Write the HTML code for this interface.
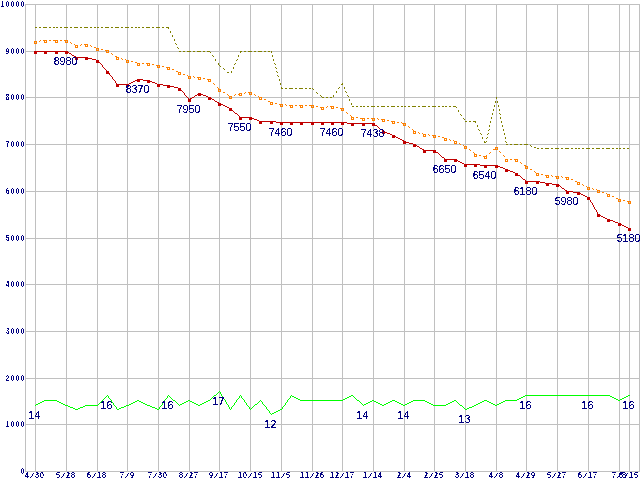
<!DOCTYPE html><html><head><meta charset="utf-8"><title>chart</title><style>
html,body{margin:0;padding:0;background:#fff;overflow:hidden}svg{display:block}
.ax{font-family:"Liberation Sans",sans-serif;font-weight:bold;font-size:9px;fill:#000080}
.dl{font-family:"Liberation Sans",sans-serif;font-size:10.67px;fill:#000080;text-anchor:middle}
</style></head><body>
<svg width="640" height="480" viewBox="0 0 640 480">
<defs><filter id="cr" x="0" y="0" width="640" height="480" filterUnits="userSpaceOnUse" color-interpolation-filters="sRGB"><feComponentTransfer><feFuncA type="discrete" tableValues="0 0 1 1 1"/></feComponentTransfer></filter><filter id="cx" x="0" y="0" width="640" height="480" filterUnits="userSpaceOnUse" color-interpolation-filters="sRGB"><feComponentTransfer><feFuncA type="discrete" tableValues="0 1"/></feComponentTransfer></filter></defs>
<rect width="640" height="480" fill="#fff"/>
<path shape-rendering="crispEdges" fill="#c0c0c0" d="M25 471h615v1h-615zM25 424h615v1h-615zM25 378h615v1h-615zM25 331h615v1h-615zM25 284h615v1h-615zM25 238h615v1h-615zM25 191h615v1h-615zM25 144h615v1h-615zM25 97h615v1h-615zM25 51h615v1h-615zM25 4h615v1h-615zM25 4h1v468h-1zM35 4h1v468h-1zM66 4h1v468h-1zM97 4h1v468h-1zM127 4h1v468h-1zM158 4h1v468h-1zM189 4h1v468h-1zM219 4h1v468h-1zM250 4h1v468h-1zM281 4h1v468h-1zM312 4h1v468h-1zM342 4h1v468h-1zM373 4h1v468h-1zM404 4h1v468h-1zM434 4h1v468h-1zM465 4h1v468h-1zM496 4h1v468h-1zM526 4h1v468h-1zM557 4h1v468h-1zM588 4h1v468h-1zM619 4h1v468h-1zM629 4h1v468h-1zM639 4h1v468h-1z"/>
<path shape-rendering="crispEdges" fill="#00ff00" d="M219 391h1v1h-1zM218 392h1v1h-1zM220 392h1v1h-1zM217 393h1v1h-1zM220 393h1v1h-1zM216 394h1v1h-1zM221 394h1v1h-1zM107 395h1v1h-1zM168 395h1v1h-1zM214 395h2v1h-2zM221 395h1v1h-1zM240 395h1v1h-1zM291 395h1v1h-1zM351 395h2v1h-2zM525 395h85v1h-85zM628 395h2v1h-2zM106 396h1v1h-1zM108 396h1v1h-1zM167 396h1v1h-1zM169 396h1v1h-1zM213 396h1v1h-1zM222 396h1v1h-1zM239 396h1v1h-1zM241 396h1v1h-1zM290 396h1v1h-1zM292 396h2v1h-2zM349 396h2v1h-2zM353 396h1v1h-1zM523 396h2v1h-2zM610 396h2v1h-2zM626 396h2v1h-2zM105 397h1v1h-1zM108 397h1v1h-1zM167 397h1v1h-1zM170 397h1v1h-1zM212 397h1v1h-1zM223 397h1v1h-1zM239 397h1v1h-1zM241 397h1v1h-1zM290 397h1v1h-1zM294 397h2v1h-2zM347 397h2v1h-2zM354 397h1v1h-1zM521 397h2v1h-2zM612 397h2v1h-2zM624 397h2v1h-2zM104 398h1v1h-1zM109 398h1v1h-1zM166 398h1v1h-1zM171 398h1v1h-1zM211 398h1v1h-1zM223 398h1v1h-1zM238 398h1v1h-1zM242 398h1v1h-1zM289 398h1v1h-1zM296 398h2v1h-2zM345 398h2v1h-2zM355 398h1v1h-1zM519 398h2v1h-2zM614 398h2v1h-2zM622 398h2v1h-2zM103 399h1v1h-1zM110 399h1v1h-1zM165 399h1v1h-1zM172 399h1v1h-1zM210 399h1v1h-1zM224 399h1v1h-1zM237 399h1v1h-1zM243 399h1v1h-1zM288 399h1v1h-1zM298 399h2v1h-2zM343 399h2v1h-2zM356 399h1v1h-1zM517 399h2v1h-2zM616 399h2v1h-2zM620 399h2v1h-2zM44 400h13v1h-13zM102 400h1v1h-1zM111 400h1v1h-1zM137 400h2v1h-2zM164 400h1v1h-1zM173 400h2v1h-2zM188 400h2v1h-2zM208 400h2v1h-2zM225 400h1v1h-1zM236 400h1v1h-1zM244 400h1v1h-1zM260 400h1v1h-1zM287 400h1v1h-1zM300 400h43v1h-43zM357 400h2v1h-2zM372 400h2v1h-2zM392 400h3v1h-3zM413 400h12v1h-12zM454 400h2v1h-2zM484 400h3v1h-3zM505 400h12v1h-12zM618 400h2v1h-2zM42 401h2v1h-2zM57 401h2v1h-2zM101 401h1v1h-1zM111 401h1v1h-1zM135 401h2v1h-2zM139 401h2v1h-2zM164 401h1v1h-1zM175 401h1v1h-1zM186 401h2v1h-2zM190 401h2v1h-2zM206 401h2v1h-2zM225 401h1v1h-1zM236 401h1v1h-1zM244 401h1v1h-1zM259 401h1v1h-1zM261 401h1v1h-1zM287 401h1v1h-1zM359 401h1v1h-1zM370 401h2v1h-2zM374 401h2v1h-2zM390 401h2v1h-2zM395 401h2v1h-2zM411 401h2v1h-2zM425 401h2v1h-2zM452 401h2v1h-2zM456 401h1v1h-1zM482 401h2v1h-2zM487 401h2v1h-2zM503 401h2v1h-2zM40 402h2v1h-2zM59 402h2v1h-2zM100 402h1v1h-1zM112 402h1v1h-1zM133 402h2v1h-2zM141 402h2v1h-2zM163 402h1v1h-1zM176 402h1v1h-1zM184 402h2v1h-2zM192 402h2v1h-2zM204 402h2v1h-2zM226 402h1v1h-1zM235 402h1v1h-1zM245 402h1v1h-1zM258 402h1v1h-1zM262 402h1v1h-1zM286 402h1v1h-1zM360 402h1v1h-1zM368 402h2v1h-2zM376 402h2v1h-2zM388 402h2v1h-2zM397 402h2v1h-2zM409 402h2v1h-2zM427 402h2v1h-2zM450 402h2v1h-2zM457 402h1v1h-1zM480 402h2v1h-2zM489 402h2v1h-2zM501 402h2v1h-2zM38 403h2v1h-2zM61 403h2v1h-2zM99 403h1v1h-1zM113 403h1v1h-1zM131 403h2v1h-2zM143 403h2v1h-2zM162 403h1v1h-1zM177 403h1v1h-1zM182 403h2v1h-2zM194 403h2v1h-2zM202 403h2v1h-2zM226 403h1v1h-1zM234 403h1v1h-1zM246 403h1v1h-1zM257 403h1v1h-1zM262 403h1v1h-1zM285 403h1v1h-1zM361 403h1v1h-1zM366 403h2v1h-2zM378 403h2v1h-2zM386 403h2v1h-2zM399 403h2v1h-2zM407 403h2v1h-2zM429 403h2v1h-2zM448 403h2v1h-2zM458 403h1v1h-1zM478 403h2v1h-2zM491 403h2v1h-2zM499 403h2v1h-2zM36 404h2v1h-2zM63 404h2v1h-2zM98 404h1v1h-1zM113 404h1v1h-1zM129 404h2v1h-2zM145 404h2v1h-2zM162 404h1v1h-1zM178 404h1v1h-1zM180 404h2v1h-2zM196 404h2v1h-2zM200 404h2v1h-2zM227 404h1v1h-1zM234 404h1v1h-1zM246 404h1v1h-1zM255 404h2v1h-2zM263 404h1v1h-1zM285 404h1v1h-1zM362 404h1v1h-1zM364 404h2v1h-2zM380 404h2v1h-2zM384 404h2v1h-2zM401 404h2v1h-2zM405 404h2v1h-2zM431 404h2v1h-2zM446 404h2v1h-2zM459 404h1v1h-1zM476 404h2v1h-2zM493 404h2v1h-2zM497 404h2v1h-2zM35 405h1v1h-1zM65 405h3v1h-3zM85 405h13v1h-13zM114 405h1v1h-1zM126 405h3v1h-3zM147 405h3v1h-3zM161 405h1v1h-1zM179 405h1v1h-1zM198 405h2v1h-2zM228 405h1v1h-1zM233 405h1v1h-1zM247 405h1v1h-1zM254 405h1v1h-1zM264 405h1v1h-1zM284 405h1v1h-1zM363 405h1v1h-1zM382 405h2v1h-2zM403 405h2v1h-2zM433 405h13v1h-13zM460 405h2v1h-2zM474 405h2v1h-2zM495 405h2v1h-2zM68 406h2v1h-2zM83 406h2v1h-2zM115 406h1v1h-1zM124 406h2v1h-2zM150 406h2v1h-2zM160 406h1v1h-1zM228 406h1v1h-1zM232 406h1v1h-1zM248 406h1v1h-1zM253 406h1v1h-1zM265 406h1v1h-1zM283 406h1v1h-1zM462 406h1v1h-1zM472 406h2v1h-2zM70 407h3v1h-3zM80 407h3v1h-3zM116 407h1v1h-1zM121 407h3v1h-3zM152 407h3v1h-3zM159 407h1v1h-1zM229 407h1v1h-1zM231 407h1v1h-1zM249 407h1v1h-1zM252 407h1v1h-1zM266 407h1v1h-1zM282 407h1v1h-1zM463 407h1v1h-1zM469 407h3v1h-3zM73 408h2v1h-2zM78 408h2v1h-2zM116 408h1v1h-1zM119 408h2v1h-2zM155 408h2v1h-2zM159 408h1v1h-1zM229 408h1v1h-1zM231 408h1v1h-1zM249 408h1v1h-1zM251 408h1v1h-1zM266 408h1v1h-1zM282 408h1v1h-1zM464 408h1v1h-1zM467 408h2v1h-2zM75 409h3v1h-3zM117 409h2v1h-2zM157 409h2v1h-2zM230 409h1v1h-1zM250 409h1v1h-1zM267 409h1v1h-1zM280 409h2v1h-2zM465 409h2v1h-2zM268 410h1v1h-1zM278 410h2v1h-2zM269 411h1v1h-1zM276 411h2v1h-2zM269 412h1v1h-1zM274 412h2v1h-2zM270 413h1v1h-1zM272 413h2v1h-2zM271 414h1v1h-1z"/>
<path shape-rendering="crispEdges" fill="#808000" d="M35 27h2v1h-2zM39 27h2v1h-2zM43 27h4v1h-4zM49 27h2v1h-2zM53 27h2v1h-2zM56 27h2v1h-2zM60 27h2v1h-2zM64 27h4v1h-4zM70 27h2v1h-2zM74 27h4v1h-4zM80 27h2v1h-2zM84 27h4v1h-4zM90 27h2v1h-2zM94 27h2v1h-2zM97 27h2v1h-2zM101 27h2v1h-2zM105 27h4v1h-4zM111 27h2v1h-2zM115 27h4v1h-4zM121 27h2v1h-2zM125 27h4v1h-4zM131 27h2v1h-2zM135 27h2v1h-2zM138 27h2v1h-2zM142 27h2v1h-2zM146 27h4v1h-4zM152 27h2v1h-2zM156 27h4v1h-4zM162 27h2v1h-2zM166 27h3v1h-3zM168 28h1v1h-1zM170 31h1v1h-1zM170 32h1v1h-1zM172 35h1v1h-1zM172 36h1v1h-1zM174 39h1v1h-1zM174 40h1v1h-1zM175 43h1v1h-1zM176 44h1v1h-1zM177 47h1v1h-1zM178 48h1v1h-1zM179 51h2v1h-2zM183 51h2v1h-2zM187 51h4v1h-4zM193 51h2v1h-2zM197 51h4v1h-4zM203 51h2v1h-2zM207 51h3v1h-3zM240 51h2v1h-2zM244 51h2v1h-2zM248 51h4v1h-4zM254 51h2v1h-2zM258 51h4v1h-4zM264 51h2v1h-2zM268 51h2v1h-2zM271 51h1v1h-1zM210 52h1v1h-1zM240 52h1v1h-1zM271 52h1v1h-1zM212 55h1v1h-1zM238 55h1v1h-1zM272 55h1v1h-1zM213 56h1v1h-1zM238 56h1v1h-1zM272 56h1v1h-1zM215 59h1v1h-1zM237 59h1v1h-1zM273 59h1v1h-1zM215 60h1v1h-1zM236 60h1v1h-1zM273 60h1v1h-1zM218 63h1v1h-1zM235 63h1v1h-1zM274 63h1v1h-1zM218 64h1v1h-1zM234 64h1v1h-1zM275 64h1v1h-1zM219 65h1v1h-1zM220 66h1v1h-1zM233 67h1v1h-1zM275 67h1v1h-1zM223 68h1v1h-1zM233 68h1v1h-1zM276 68h1v1h-1zM224 69h1v1h-1zM231 71h1v1h-1zM276 71h1v1h-1zM227 72h2v1h-2zM231 72h1v1h-1zM277 72h1v1h-1zM277 75h1v1h-1zM278 76h1v1h-1zM279 79h1v1h-1zM279 80h1v1h-1zM280 83h1v1h-1zM342 83h1v1h-1zM280 84h1v1h-1zM341 84h2v1h-2zM281 87h1v1h-1zM339 87h1v1h-1zM344 87h1v1h-1zM281 88h2v1h-2zM285 88h2v1h-2zM289 88h4v1h-4zM295 88h2v1h-2zM299 88h4v1h-4zM305 88h2v1h-2zM309 88h2v1h-2zM312 88h1v1h-1zM338 88h1v1h-1zM344 88h1v1h-1zM313 89h1v1h-1zM336 91h1v1h-1zM345 91h1v1h-1zM316 92h1v1h-1zM336 92h1v1h-1zM346 92h1v1h-1zM317 93h1v1h-1zM320 95h1v1h-1zM333 95h1v1h-1zM347 95h1v1h-1zM321 96h1v1h-1zM333 96h1v1h-1zM348 96h1v1h-1zM322 97h2v1h-2zM326 97h2v1h-2zM330 97h2v1h-2zM496 97h1v1h-1zM496 98h1v1h-1zM349 99h1v1h-1zM349 100h1v1h-1zM495 101h1v1h-1zM497 101h1v1h-1zM495 102h1v1h-1zM497 102h1v1h-1zM351 103h1v1h-1zM351 104h1v1h-1zM494 105h1v1h-1zM498 105h1v1h-1zM352 106h2v1h-2zM356 106h2v1h-2zM360 106h2v1h-2zM363 106h2v1h-2zM367 106h2v1h-2zM371 106h4v1h-4zM377 106h2v1h-2zM381 106h4v1h-4zM387 106h2v1h-2zM391 106h4v1h-4zM397 106h2v1h-2zM401 106h2v1h-2zM404 106h2v1h-2zM408 106h2v1h-2zM412 106h4v1h-4zM418 106h2v1h-2zM422 106h4v1h-4zM428 106h2v1h-2zM432 106h4v1h-4zM438 106h2v1h-2zM442 106h2v1h-2zM445 106h2v1h-2zM449 106h2v1h-2zM453 106h3v1h-3zM494 106h1v1h-1zM498 106h1v1h-1zM456 107h1v1h-1zM493 109h1v1h-1zM499 109h1v1h-1zM458 110h1v1h-1zM493 110h1v1h-1zM499 110h1v1h-1zM458 111h1v1h-1zM492 113h1v1h-1zM499 113h1v1h-1zM460 114h1v1h-1zM492 114h1v1h-1zM500 114h1v1h-1zM461 115h1v1h-1zM491 117h1v1h-1zM500 117h1v1h-1zM463 118h1v1h-1zM491 118h1v1h-1zM500 118h1v1h-1zM464 119h1v1h-1zM465 121h2v1h-2zM469 121h2v1h-2zM473 121h3v1h-3zM490 121h1v1h-1zM501 121h1v1h-1zM475 122h1v1h-1zM490 122h1v1h-1zM501 122h1v1h-1zM477 125h1v1h-1zM489 125h1v1h-1zM502 125h1v1h-1zM477 126h1v1h-1zM489 126h1v1h-1zM502 126h1v1h-1zM478 129h1v1h-1zM489 129h1v1h-1zM503 129h1v1h-1zM479 130h1v1h-1zM488 130h1v1h-1zM503 130h1v1h-1zM480 133h1v1h-1zM488 133h1v1h-1zM504 133h1v1h-1zM481 134h1v1h-1zM487 134h1v1h-1zM504 134h1v1h-1zM482 137h1v1h-1zM487 137h1v1h-1zM505 137h1v1h-1zM482 138h1v1h-1zM486 138h1v1h-1zM505 138h1v1h-1zM484 141h1v1h-1zM486 141h1v1h-1zM505 141h1v1h-1zM484 142h2v1h-2zM506 142h1v1h-1zM506 144h2v1h-2zM510 144h2v1h-2zM514 144h4v1h-4zM520 144h2v1h-2zM524 144h4v1h-4zM530 145h1v1h-1zM531 146h1v1h-1zM534 147h2v1h-2zM537 148h2v1h-2zM541 148h2v1h-2zM545 148h4v1h-4zM551 148h2v1h-2zM555 148h4v1h-4zM561 148h2v1h-2zM565 148h4v1h-4zM571 148h2v1h-2zM575 148h2v1h-2zM578 148h2v1h-2zM582 148h2v1h-2zM586 148h4v1h-4zM592 148h2v1h-2zM596 148h4v1h-4zM602 148h2v1h-2zM606 148h4v1h-4zM612 148h2v1h-2zM616 148h2v1h-2zM619 148h2v1h-2zM623 148h2v1h-2zM627 148h2v1h-2z"/>
<path shape-rendering="crispEdges" fill="#ff8000" d="M40 40h1v1h-1zM43 40h4v1h-4zM49 40h2v1h-2zM53 40h2v1h-2zM56 40h2v1h-2zM60 40h2v1h-2zM64 40h3v1h-3zM35 41h2v1h-2zM39 41h1v1h-1zM67 41h1v1h-1zM70 42h1v1h-1zM71 43h1v1h-1zM74 44h1v1h-1zM81 44h1v1h-1zM84 44h4v1h-4zM75 45h3v1h-3zM80 45h1v1h-1zM90 45h1v1h-1zM91 46h1v1h-1zM94 47h2v1h-2zM97 48h2v1h-2zM101 49h2v1h-2zM105 50h3v1h-3zM108 51h1v1h-1zM111 53h1v1h-1zM112 54h1v1h-1zM115 56h2v1h-2zM117 57h2v1h-2zM121 58h1v1h-1zM122 59h1v1h-1zM125 59h1v1h-1zM126 60h3v1h-3zM131 61h2v1h-2zM135 62h2v1h-2zM138 63h2v1h-2zM142 63h2v1h-2zM146 63h4v1h-4zM152 64h2v1h-2zM156 65h4v1h-4zM162 66h2v1h-2zM166 67h4v1h-4zM172 69h2v1h-2zM176 71h2v1h-2zM179 72h2v1h-2zM183 74h2v1h-2zM187 75h1v1h-1zM188 76h3v1h-3zM193 76h1v1h-1zM194 77h1v1h-1zM197 77h4v1h-4zM203 78h2v1h-2zM207 79h3v1h-3zM210 80h1v1h-1zM213 83h1v1h-1zM214 84h1v1h-1zM217 87h1v1h-1zM218 88h1v1h-1zM219 89h1v1h-1zM220 90h1v1h-1zM223 92h2v1h-2zM245 92h1v1h-1zM248 92h3v1h-3zM239 93h3v1h-3zM244 93h1v1h-1zM251 93h1v1h-1zM227 94h1v1h-1zM235 94h1v1h-1zM238 94h1v1h-1zM254 94h1v1h-1zM228 95h1v1h-1zM234 95h1v1h-1zM255 95h1v1h-1zM230 96h2v1h-2zM258 96h1v1h-1zM259 97h3v1h-3zM264 99h2v1h-2zM268 101h2v1h-2zM271 102h2v1h-2zM275 103h2v1h-2zM279 104h4v1h-4zM285 104h1v1h-1zM286 105h1v1h-1zM289 105h4v1h-4zM295 105h2v1h-2zM299 105h4v1h-4zM305 105h2v1h-2zM309 105h2v1h-2zM312 105h2v1h-2zM316 106h2v1h-2zM327 106h1v1h-1zM330 106h4v1h-4zM320 107h4v1h-4zM326 107h1v1h-1zM336 107h2v1h-2zM340 108h3v1h-3zM343 109h1v1h-1zM346 112h1v1h-1zM347 113h1v1h-1zM350 115h1v1h-1zM351 116h1v1h-1zM352 117h2v1h-2zM356 117h2v1h-2zM360 118h2v1h-2zM363 118h2v1h-2zM367 118h2v1h-2zM371 118h4v1h-4zM377 118h1v1h-1zM378 119h1v1h-1zM381 119h4v1h-4zM387 120h2v1h-2zM391 121h4v1h-4zM397 122h2v1h-2zM401 122h1v1h-1zM402 123h1v1h-1zM404 123h1v1h-1zM405 124h1v1h-1zM408 126h1v1h-1zM409 127h1v1h-1zM412 129h1v1h-1zM413 130h1v1h-1zM414 131h2v1h-2zM418 132h1v1h-1zM419 133h1v1h-1zM422 133h1v1h-1zM423 134h3v1h-3zM428 134h1v1h-1zM429 135h1v1h-1zM432 135h4v1h-4zM438 136h2v1h-2zM442 137h2v1h-2zM445 138h2v1h-2zM449 139h1v1h-1zM450 140h1v1h-1zM453 140h1v1h-1zM454 141h2v1h-2zM456 142h1v1h-1zM459 143h1v1h-1zM460 144h1v1h-1zM463 145h1v1h-1zM464 146h2v1h-2zM466 147h1v1h-1zM496 147h1v1h-1zM497 148h1v1h-1zM469 149h1v1h-1zM493 149h2v1h-2zM470 150h1v1h-1zM499 151h1v1h-1zM473 152h1v1h-1zM490 152h1v1h-1zM500 152h1v1h-1zM474 153h1v1h-1zM489 153h1v1h-1zM475 154h2v1h-2zM479 155h2v1h-2zM486 155h1v1h-1zM503 155h1v1h-1zM483 156h3v1h-3zM504 156h1v1h-1zM506 159h2v1h-2zM510 159h2v1h-2zM514 159h3v1h-3zM517 160h1v1h-1zM520 162h1v1h-1zM521 163h1v1h-1zM524 165h2v1h-2zM526 166h1v1h-1zM527 167h1v1h-1zM530 169h2v1h-2zM534 171h1v1h-1zM535 172h1v1h-1zM537 173h2v1h-2zM541 174h2v1h-2zM545 175h4v1h-4zM551 175h1v1h-1zM552 176h1v1h-1zM555 176h4v1h-4zM561 176h1v1h-1zM562 177h1v1h-1zM565 177h4v1h-4zM571 179h2v1h-2zM575 181h2v1h-2zM578 182h1v1h-1zM579 183h1v1h-1zM582 184h1v1h-1zM583 185h1v1h-1zM586 186h1v1h-1zM587 187h3v1h-3zM592 188h1v1h-1zM593 189h1v1h-1zM596 189h1v1h-1zM597 190h3v1h-3zM602 192h2v1h-2zM606 193h1v1h-1zM607 194h3v1h-3zM612 196h2v1h-2zM616 198h2v1h-2zM619 199h2v1h-2zM623 200h2v1h-2zM627 201h2v1h-2z"/>
<path shape-rendering="crispEdges" fill="#ff8000" fill-rule="evenodd" d="M34 41h3v3h-3zM35 42v1h1v-1zM44 40h3v3h-3zM45 41v1h1v-1zM55 40h3v3h-3zM56 41v1h1v-1zM65 40h3v3h-3zM66 41v1h1v-1zM75 45h3v3h-3zM76 46v1h1v-1zM85 44h3v3h-3zM86 45v1h1v-1zM96 48h3v3h-3zM97 49v1h1v-1zM106 50h3v3h-3zM107 51v1h1v-1zM116 57h3v3h-3zM117 58v1h1v-1zM126 60h3v3h-3zM127 61v1h1v-1zM137 63h3v3h-3zM138 64v1h1v-1zM147 63h3v3h-3zM148 64v1h1v-1zM157 65h3v3h-3zM158 66v1h1v-1zM167 67h3v3h-3zM168 68v1h1v-1zM178 72h3v3h-3zM179 73v1h1v-1zM188 76h3v3h-3zM189 77v1h1v-1zM198 77h3v3h-3zM199 78v1h1v-1zM208 79h3v3h-3zM209 80v1h1v-1zM218 89h3v3h-3zM219 90v1h1v-1zM229 96h3v3h-3zM230 97v1h1v-1zM239 93h3v3h-3zM240 94v1h1v-1zM249 92h3v3h-3zM250 93v1h1v-1zM259 97h3v3h-3zM260 98v1h1v-1zM270 102h3v3h-3zM271 103v1h1v-1zM280 104h3v3h-3zM281 105v1h1v-1zM290 105h3v3h-3zM291 106v1h1v-1zM300 105h3v3h-3zM301 106v1h1v-1zM311 105h3v3h-3zM312 106v1h1v-1zM321 107h3v3h-3zM322 108v1h1v-1zM331 106h3v3h-3zM332 107v1h1v-1zM341 108h3v3h-3zM342 109v1h1v-1zM351 117h3v3h-3zM352 118v1h1v-1zM362 118h3v3h-3zM363 119v1h1v-1zM372 118h3v3h-3zM373 119v1h1v-1zM382 119h3v3h-3zM383 120v1h1v-1zM392 121h3v3h-3zM393 122v1h1v-1zM403 123h3v3h-3zM404 124v1h1v-1zM413 131h3v3h-3zM414 132v1h1v-1zM423 134h3v3h-3zM424 135v1h1v-1zM433 135h3v3h-3zM434 136v1h1v-1zM444 138h3v3h-3zM445 139v1h1v-1zM454 141h3v3h-3zM455 142v1h1v-1zM464 146h3v3h-3zM465 147v1h1v-1zM474 154h3v3h-3zM475 155v1h1v-1zM484 156h3v3h-3zM485 157v1h1v-1zM495 147h3v3h-3zM496 148v1h1v-1zM505 159h3v3h-3zM506 160v1h1v-1zM515 159h3v3h-3zM516 160v1h1v-1zM525 166h3v3h-3zM526 167v1h1v-1zM536 173h3v3h-3zM537 174v1h1v-1zM546 175h3v3h-3zM547 176v1h1v-1zM556 176h3v3h-3zM557 177v1h1v-1zM566 177h3v3h-3zM567 178v1h1v-1zM577 182h3v3h-3zM578 183v1h1v-1zM587 187h3v3h-3zM588 188v1h1v-1zM597 190h3v3h-3zM598 191v1h1v-1zM607 194h3v3h-3zM608 195v1h1v-1zM618 199h3v3h-3zM619 200v1h1v-1zM628 201h3v3h-3zM629 202v1h1v-1z"/>
<path shape-rendering="crispEdges" fill="#c00000" d="M35 51h32v1h-32zM67 52h2v1h-2zM69 53h2v1h-2zM71 54h1v1h-1zM72 55h2v1h-2zM74 56h2v1h-2zM76 57h12v1h-12zM88 58h4v1h-4zM92 59h4v1h-4zM96 60h2v1h-2zM98 61h1v1h-1zM99 62h1v1h-1zM100 63h1v1h-1zM101 64h1v1h-1zM102 65h1v1h-1zM102 66h1v1h-1zM103 67h1v1h-1zM104 68h1v1h-1zM105 69h1v1h-1zM106 70h1v1h-1zM107 71h1v1h-1zM108 72h1v1h-1zM109 73h1v1h-1zM109 74h1v1h-1zM110 75h1v1h-1zM111 76h1v1h-1zM112 77h1v1h-1zM112 78h1v1h-1zM113 79h1v1h-1zM137 79h6v1h-6zM114 80h1v1h-1zM135 80h2v1h-2zM143 80h7v1h-7zM115 81h1v1h-1zM133 81h2v1h-2zM150 81h2v1h-2zM115 82h1v1h-1zM131 82h2v1h-2zM152 82h3v1h-3zM116 83h1v1h-1zM129 83h2v1h-2zM155 83h2v1h-2zM117 84h12v1h-12zM157 84h6v1h-6zM163 85h7v1h-7zM170 86h4v1h-4zM174 87h4v1h-4zM178 88h2v1h-2zM180 89h1v1h-1zM181 90h1v1h-1zM182 91h1v1h-1zM183 92h1v1h-1zM184 93h1v1h-1zM199 93h2v1h-2zM184 94h1v1h-1zM197 94h2v1h-2zM201 94h2v1h-2zM185 95h1v1h-1zM195 95h2v1h-2zM203 95h3v1h-3zM186 96h1v1h-1zM194 96h1v1h-1zM206 96h2v1h-2zM187 97h1v1h-1zM192 97h2v1h-2zM208 97h2v1h-2zM188 98h1v1h-1zM190 98h2v1h-2zM210 98h2v1h-2zM189 99h1v1h-1zM212 99h2v1h-2zM214 100h1v1h-1zM215 101h2v1h-2zM217 102h2v1h-2zM219 103h2v1h-2zM221 104h2v1h-2zM223 105h2v1h-2zM225 106h2v1h-2zM227 107h2v1h-2zM229 108h2v1h-2zM231 109h1v1h-1zM232 110h1v1h-1zM233 111h1v1h-1zM234 112h1v1h-1zM235 113h2v1h-2zM237 114h1v1h-1zM238 115h1v1h-1zM239 116h1v1h-1zM240 117h12v1h-12zM252 118h2v1h-2zM254 119h3v1h-3zM257 120h2v1h-2zM259 121h17v1h-17zM276 122h71v1h-71zM347 123h27v1h-27zM374 124h1v1h-1zM375 125h2v1h-2zM377 126h1v1h-1zM378 127h1v1h-1zM379 128h1v1h-1zM380 129h2v1h-2zM382 130h1v1h-1zM383 131h2v1h-2zM385 132h2v1h-2zM387 133h3v1h-3zM390 134h2v1h-2zM392 135h2v1h-2zM394 136h2v1h-2zM396 137h2v1h-2zM398 138h2v1h-2zM400 139h2v1h-2zM402 140h2v1h-2zM404 141h2v1h-2zM406 142h3v1h-3zM409 143h4v1h-4zM413 144h2v1h-2zM415 145h2v1h-2zM417 146h2v1h-2zM419 147h1v1h-1zM420 148h2v1h-2zM422 149h2v1h-2zM424 150h11v1h-11zM435 151h1v1h-1zM436 152h2v1h-2zM438 153h1v1h-1zM439 154h1v1h-1zM440 155h1v1h-1zM441 156h1v1h-1zM442 157h2v1h-2zM444 158h1v1h-1zM445 159h11v1h-11zM456 160h2v1h-2zM458 161h2v1h-2zM460 162h2v1h-2zM462 163h2v1h-2zM464 164h16v1h-16zM480 165h18v1h-18zM498 166h2v1h-2zM500 167h3v1h-3zM503 168h2v1h-2zM505 169h3v1h-3zM508 170h2v1h-2zM510 171h3v1h-3zM513 172h2v1h-2zM515 173h2v1h-2zM517 174h1v1h-1zM518 175h2v1h-2zM520 176h1v1h-1zM521 177h1v1h-1zM522 178h1v1h-1zM523 179h2v1h-2zM525 180h1v1h-1zM526 181h14v1h-14zM540 182h5v1h-5zM545 183h7v1h-7zM552 184h6v1h-6zM558 185h2v1h-2zM560 186h1v1h-1zM561 187h1v1h-1zM562 188h2v1h-2zM564 189h1v1h-1zM565 190h2v1h-2zM567 191h6v1h-6zM573 192h6v1h-6zM579 193h2v1h-2zM581 194h2v1h-2zM583 195h2v1h-2zM585 196h2v1h-2zM587 197h2v1h-2zM589 198h1v1h-1zM589 199h1v1h-1zM590 200h1v1h-1zM590 201h1v1h-1zM591 202h1v1h-1zM592 203h1v1h-1zM592 204h1v1h-1zM593 205h1v1h-1zM593 206h1v1h-1zM594 207h1v1h-1zM594 208h1v1h-1zM595 209h1v1h-1zM596 210h1v1h-1zM596 211h1v1h-1zM597 212h1v1h-1zM597 213h1v1h-1zM598 214h1v1h-1zM599 215h2v1h-2zM601 216h2v1h-2zM603 217h2v1h-2zM605 218h2v1h-2zM607 219h3v1h-3zM610 220h3v1h-3zM613 221h2v1h-2zM615 222h3v1h-3zM618 223h2v1h-2zM620 224h2v1h-2zM622 225h2v1h-2zM624 226h2v1h-2zM626 227h2v1h-2zM628 228h2v1h-2z"/>
<path shape-rendering="crispEdges" fill="#c00000" d="M34 51h3v3h-3zM44 51h3v3h-3zM55 51h3v3h-3zM65 51h3v3h-3zM75 57h3v3h-3zM85 57h3v3h-3zM96 60h3v3h-3zM106 71h3v3h-3zM116 84h3v3h-3zM126 84h3v3h-3zM137 79h3v3h-3zM147 80h3v3h-3zM157 84h3v3h-3zM167 85h3v3h-3zM178 88h3v3h-3zM188 99h3v3h-3zM198 93h3v3h-3zM208 97h3v3h-3zM218 103h3v3h-3zM229 108h3v3h-3zM239 117h3v3h-3zM249 117h3v3h-3zM259 121h3v3h-3zM270 121h3v3h-3zM280 122h3v3h-3zM290 122h3v3h-3zM300 122h3v3h-3zM311 122h3v3h-3zM321 122h3v3h-3zM331 122h3v3h-3zM341 122h3v3h-3zM351 123h3v3h-3zM362 123h3v3h-3zM372 123h3v3h-3zM382 131h3v3h-3zM392 135h3v3h-3zM403 141h3v3h-3zM413 144h3v3h-3zM423 150h3v3h-3zM433 150h3v3h-3zM444 159h3v3h-3zM454 159h3v3h-3zM464 164h3v3h-3zM474 164h3v3h-3zM484 165h3v3h-3zM495 165h3v3h-3zM505 169h3v3h-3zM515 173h3v3h-3zM525 181h3v3h-3zM536 181h3v3h-3zM546 183h3v3h-3zM556 184h3v3h-3zM566 191h3v3h-3zM577 192h3v3h-3zM587 197h3v3h-3zM597 214h3v3h-3zM607 219h3v3h-3zM618 223h3v3h-3zM628 228h3v3h-3z"/>
<g filter="url(#cr)">
<text class="dl" x="65.5" y="65">8980</text>
<text class="dl" x="137.5" y="93">8370</text>
<text class="dl" x="188.5" y="113">7950</text>
<text class="dl" x="239.5" y="131">7550</text>
<text class="dl" x="280.5" y="136">7460</text>
<text class="dl" x="331.5" y="136">7460</text>
<text class="dl" x="372.5" y="137">7438</text>
<text class="dl" x="444.5" y="173">6650</text>
<text class="dl" x="484.5" y="179">6540</text>
<text class="dl" x="525.5" y="195">6180</text>
<text class="dl" x="566.5" y="205">5980</text>
<text class="dl" x="628.5" y="242">5180</text>
<text class="dl" x="34.5" y="419">14</text>
<text class="dl" x="106.5" y="409">16</text>
<text class="dl" x="167.5" y="409">16</text>
<text class="dl" x="218.5" y="405">17</text>
<text class="dl" x="270.5" y="428">12</text>
<text class="dl" x="362.5" y="419">14</text>
<text class="dl" x="403.5" y="419">14</text>
<text class="dl" x="464.5" y="423">13</text>
<text class="dl" x="525.5" y="409">16</text>
<text class="dl" x="587.5" y="409">16</text>
<text class="dl" x="628.5" y="409">16</text>
</g>
<g filter="url(#cx)">
<text class="ax" transform="translate(20,474) scale(0.7,1)" x="1.07">0</text>
<text class="ax" transform="translate(5,427) scale(0.7,1)" x="1.07 8.21 15.36 22.5">1000</text>
<text class="ax" transform="translate(5,381) scale(0.7,1)" x="1.07 8.21 15.36 22.5">2000</text>
<text class="ax" transform="translate(5,334) scale(0.7,1)" x="1.07 8.21 15.36 22.5">3000</text>
<text class="ax" transform="translate(5,287) scale(0.7,1)" x="1.07 8.21 15.36 22.5">4000</text>
<text class="ax" transform="translate(5,241) scale(0.7,1)" x="1.07 8.21 15.36 22.5">5000</text>
<text class="ax" transform="translate(5,194) scale(0.7,1)" x="1.07 8.21 15.36 22.5">6000</text>
<text class="ax" transform="translate(5,147) scale(0.7,1)" x="1.07 8.21 15.36 22.5">7000</text>
<text class="ax" transform="translate(5,100) scale(0.7,1)" x="1.07 8.21 15.36 22.5">8000</text>
<text class="ax" transform="translate(5,54) scale(0.7,1)" x="1.07 8.21 15.36 22.5">9000</text>
<text class="ax" transform="translate(0,7) scale(0.7,1)" x="1.07 8.21 15.36 22.5 29.64">10000</text>
<text class="ax" transform="translate(25,478) scale(0.8,1)" x="0.0 6.62 12.5 18.75" rotate="0 30 0 0" dy="0 -0.6 0.6 0">4/30</text>
<text class="ax" transform="translate(56,478) scale(0.8,1)" x="0.0 6.62 12.5 18.75" rotate="0 30 0 0" dy="0 -0.6 0.6 0">5/28</text>
<text class="ax" transform="translate(87,478) scale(0.8,1)" x="0.0 6.62 12.5 18.75" rotate="0 30 0 0" dy="0 -0.6 0.6 0">6/18</text>
<text class="ax" transform="translate(120,478) scale(0.8,1)" x="0.0 6.62 12.5" rotate="0 30 0" dy="0 -0.6 0.6">7/9</text>
<text class="ax" transform="translate(148,478) scale(0.8,1)" x="0.0 6.62 12.5 18.75" rotate="0 30 0 0" dy="0 -0.6 0.6 0">7/30</text>
<text class="ax" transform="translate(179,478) scale(0.8,1)" x="0.0 6.62 12.5 18.75" rotate="0 30 0 0" dy="0 -0.6 0.6 0">8/27</text>
<text class="ax" transform="translate(209,478) scale(0.8,1)" x="0.0 6.62 12.5 18.75" rotate="0 30 0 0" dy="0 -0.6 0.6 0">9/17</text>
<text class="ax" transform="translate(238,478) scale(0.8,1)" x="0.0 6.25 12.88 18.75 25.0" rotate="0 0 30 0 0" dy="0 0 -0.6 0.6 0">10/15</text>
<text class="ax" transform="translate(271,478) scale(0.8,1)" x="0.0 6.25 12.88 18.75" rotate="0 0 30 0" dy="0 0 -0.6 0.6">11/5</text>
<text class="ax" transform="translate(300,478) scale(0.8,1)" x="0.0 6.25 12.88 18.75 25.0" rotate="0 0 30 0 0" dy="0 0 -0.6 0.6 0">11/26</text>
<text class="ax" transform="translate(330,478) scale(0.8,1)" x="0.0 6.25 12.88 18.75 25.0" rotate="0 0 30 0 0" dy="0 0 -0.6 0.6 0">12/17</text>
<text class="ax" transform="translate(363,478) scale(0.8,1)" x="0.0 6.62 12.5 18.75" rotate="0 30 0 0" dy="0 -0.6 0.6 0">1/14</text>
<text class="ax" transform="translate(397,478) scale(0.8,1)" x="0.0 6.62 12.5" rotate="0 30 0" dy="0 -0.6 0.6">2/4</text>
<text class="ax" transform="translate(424,478) scale(0.8,1)" x="0.0 6.62 12.5 18.75" rotate="0 30 0 0" dy="0 -0.6 0.6 0">2/25</text>
<text class="ax" transform="translate(455,478) scale(0.8,1)" x="0.0 6.62 12.5 18.75" rotate="0 30 0 0" dy="0 -0.6 0.6 0">3/18</text>
<text class="ax" transform="translate(489,478) scale(0.8,1)" x="0.0 6.62 12.5" rotate="0 30 0" dy="0 -0.6 0.6">4/8</text>
<text class="ax" transform="translate(516,478) scale(0.8,1)" x="0.0 6.62 12.5 18.75" rotate="0 30 0 0" dy="0 -0.6 0.6 0">4/29</text>
<text class="ax" transform="translate(547,478) scale(0.8,1)" x="0.0 6.62 12.5 18.75" rotate="0 30 0 0" dy="0 -0.6 0.6 0">5/27</text>
<text class="ax" transform="translate(578,478) scale(0.8,1)" x="0.0 6.62 12.5 18.75" rotate="0 30 0 0" dy="0 -0.6 0.6 0">6/17</text>
<text class="ax" transform="translate(612,478) scale(0.8,1)" x="0.0 6.62 12.5" rotate="0 30 0" dy="0 -0.6 0.6">7/8</text>
<text class="ax" transform="translate(619,478) scale(0.8,1)" x="0.0 6.62 12.5 18.75" rotate="0 30 0 0" dy="0 -0.6 0.6 0">8/15</text>
</g>
</svg></body></html>
